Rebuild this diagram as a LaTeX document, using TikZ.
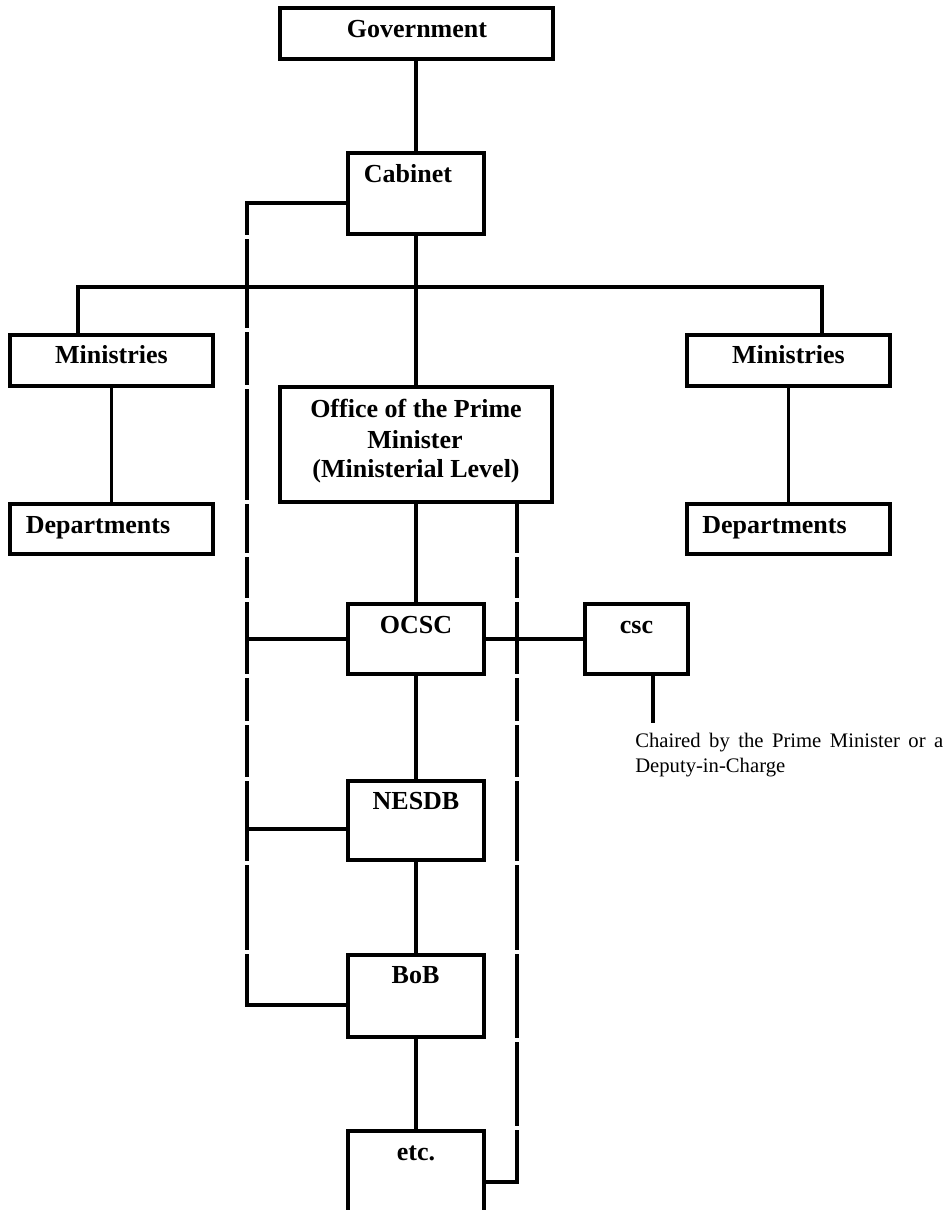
\documentclass[tikz,border=0pt]{standalone}
\usepackage{fontspec}
\setmainfont{Liberation Serif}
\usetikzlibrary{fit}
\tikzset{
  box/.style={draw, line width=2.7pt, inner sep=0pt, outer sep=0pt},
  conn/.style={line width=2.7pt},
  lbl/.style={font=\bfseries\fontsize{19.5pt}{22.5pt}\selectfont, inner sep=0pt, anchor=base},
  notetext/.style={font=\fontsize{15.5pt}{18.75pt}\selectfont, inner sep=0pt, align=left, anchor=base west},
  leftgaps/.style={dash pattern=on 99.75pt off 3pt on 66.75pt off 3pt on 39.75pt off 3pt on 83.25pt off 3pt on 36.75pt off 3pt on 30.75pt off 3pt on 54pt off 3pt on 32.25pt off 3pt on 39pt off 3pt on 60pt off 3pt on 63.75pt off 3pt on 150pt off 3pt},
  rightgaps/.style={dash pattern=on 38.25pt off 3pt on 30.75pt off 3pt on 54pt off 3pt on 32.25pt off 3pt on 39pt off 3pt on 60pt off 3pt on 63.75pt off 3pt on 63pt off 3pt on 63pt off 3pt on 90pt off 3pt}
}
\begin{document}
\begin{tikzpicture}[x=0.75pt,y=-0.75pt]
\useasboundingbox (0,0) rectangle (948,1210);
% boxes
\node[box, fit={(280,8) (553,59)}] (gov) {};
\node[box, fit={(348,153) (484,234)}] (cab) {};
\node[box, fit={(10,335) (213,386)}] (minL) {};
\node[box, fit={(687,335) (890,386)}] (minR) {};
\node[box, fit={(10,504) (213,554)}] (depL) {};
\node[box, fit={(687,504) (890,554)}] (depR) {};
\node[box, fit={(280,387) (552,502)}] (opm) {};
\node[box, fit={(348,604) (484,674)}] (ocsc) {};
\node[box, fit={(585,604) (688,674)}] (csc) {};
\node[box, fit={(348,781) (484,860)}] (nesdb) {};
\node[box, fit={(348,955) (484,1037)}] (bob) {};
\node[fit={(348,1131) (484,1215)}, inner sep=0pt, outer sep=0pt] (etc) {};
\draw[conn] (etc.south west) -- (etc.north west) -- (etc.north east) -- (etc.south east);
% labels
\node[lbl] (gov-t) at (417,37) {Government};
\node[lbl] (cab-t) at (408,182) {Cabinet};
\node[lbl] (minL-t) at (111.5,363) {Ministries};
\node[lbl] (minR-t) at (788.5,363) {Ministries};
\node[lbl] (depL-t) at (98,533) {Departments};
\node[lbl] (depR-t) at (774.5,533) {Departments};
\node[lbl] (opm-t1) at (416,417) {Office of the Prime};
\node[lbl] (opm-t2) at (415,448) {Minister};
\node[lbl] (opm-t3) at (416,477) {(Ministerial Level)};
\node[lbl] (ocsc-t) at (416,633) {OCSC};
\node[lbl] (csc-t) at (636.5,633) {csc};
\node[lbl] (nesdb-t) at (416,809) {NESDB};
\node[lbl] (bob-t) at (415.5,983) {BoB};
\node[lbl] (etc-t) at (416,1160) {etc.};
\node[notetext] (note-t) at (635,772) {\makebox[231pt][s]{Chaired by the Prime Minister or a}\\Deputy-in-Charge};
% connectors
\coordinate (busL) at (78,287);
\coordinate (busR) at (822,287);
\coordinate (note) at (653,723);
\coordinate (L1) at (247,203);
\coordinate (L3) at (247,829);
\coordinate (L4) at (247,1005);
\coordinate (R0) at (517,502);
\coordinate (R1) at (517,1182);
\draw[conn] (gov.south -| cab.north) -- (cab.north);
\draw[conn] (cab.south) -- (cab.south |- opm.north);
\draw[conn] (minL.north -| busL) -- (busL) -- (busR) -- (minR.north -| busR);
\draw[conn] (minL.south) -- (depL.north);
\draw[conn] (minR.south) -- (depR.north);
\draw[conn] (opm.south) -- (opm.south |- ocsc.north);
\draw[conn] (ocsc.south) -- (ocsc.south |- nesdb.north);
\draw[conn] (nesdb.south) -- (nesdb.south |- bob.north);
\draw[conn] (bob.south) -- (bob.south |- etc.north);
\draw[conn] (ocsc.east) -- (csc.west);
\draw[conn] (note |- csc.south) -- (note);
\draw[conn, leftgaps] (cab.west |- L1) -- (L1) -- (L4) -- (bob.west |- L4);
\draw[conn] (L1 |- ocsc.west) -- (ocsc.west);
\draw[conn] (L3) -- (nesdb.west |- L3);
\draw[conn, rightgaps] (R0 |- opm.south) -- (R1) -- (etc.east |- R1);
\end{tikzpicture}
\end{document}
